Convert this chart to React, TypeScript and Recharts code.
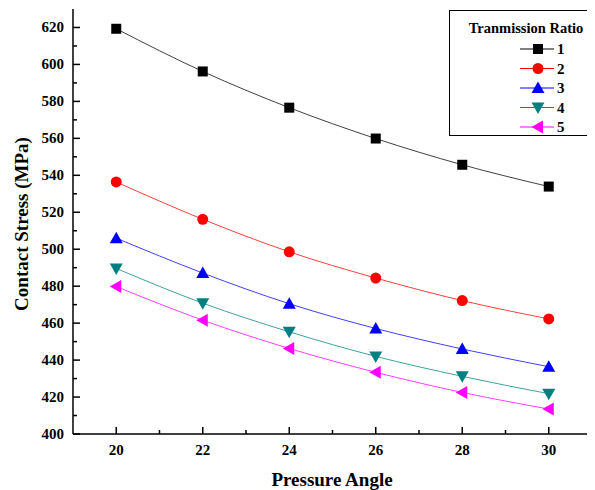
import { LineChart, Line, XAxis, YAxis, Legend } from 'recharts'

// pressure angle (deg) vs contact stress (MPa), one list per transmission ratio
const angles = [20, 22, 24, 26, 28, 30]
const ratio1 = [619.3, 596.2, 576.6, 559.9, 545.7, 533.9]
const ratio2 = [536.4, 516.2, 498.6, 484.4, 472.2, 462.3]
const ratio3 = [506.0, 487.1, 470.5, 457.1, 446.0, 436.4]
const ratio4 = [489.6, 470.8, 455.3, 442.0, 431.2, 421.8]
const ratio5 = [479.8, 461.6, 446.3, 433.4, 422.5, 413.5]

const seriesNames = ['1', '2', '3', '4', '5']
const seriesColors = ['#000000', '#ff0000', '#0000ff', '#008080', '#ff00ff']
const seriesShapes = ['square', 'circle', 'up', 'down', 'left']

const xTicks = [20, 21, 22, 23, 24, 25, 26, 27, 28, 29, 30]
const yTicks = [400, 410, 420, 430, 440, 450, 460, 470, 480, 490, 500, 510, 520, 530, 540, 550, 560, 570, 580, 590, 600, 610, 620]

const allSeries = [ratio1, ratio2, ratio3, ratio4, ratio5]
const data = angles.map((a, i) => {
  const row: Record<string, number> = { angle: a }
  allSeries.forEach((s, k) => { row['r' + (k + 1)] = s[i] })
  return row
})

const font = '"Liberation Serif", "Times New Roman", serif'

function Marker({ shape, x, y, color }: { shape: string; x: number; y: number; color: string }) {
  if (shape === 'square') return <rect x={x - 5} y={y - 5} width={10} height={10} fill={color} />
  if (shape === 'circle') return <circle cx={x} cy={y} r={5.5} fill={color} />
  let pts = ''
  if (shape === 'up') pts = `${x},${y - 6.5} ${x - 6.5},${y + 5} ${x + 6.5},${y + 5}`
  if (shape === 'down') pts = `${x - 6.5},${y - 5} ${x + 6.5},${y - 5} ${x},${y + 6.5}`
  if (shape === 'left') pts = `${x - 6.5},${y} ${x + 5},${y - 6.5} ${x + 5},${y + 6.5}`
  return <polygon points={pts} fill={color} />
}

const makeDot = (k: number) => (props: any) => {
  const { cx, cy, index } = props
  if (cx == null || cy == null) return <g key={index} />
  return <Marker key={index} shape={seriesShapes[k]} x={cx} y={cy} color={seriesColors[k]} />
}

// tick renderers: tickSize 0 so x/y sit right on the axis line
const BottomTick = (props: any) => {
  const { x, y, payload } = props
  const major = payload.value % 2 === 0
  return (
    <g>
      <line x1={x} x2={x} y1={y} y2={y - (major ? 7 : 4)} stroke="#000" strokeWidth={1.5} />
      {major && (
        <text x={x} y={y + 21} textAnchor="middle" style={{ fontFamily: font }} fontWeight="bold" fontSize={15} fill="#000">
          {payload.value}
        </text>
      )}
    </g>
  )
}

const TopTick = (props: any) => {
  const { x, y, payload } = props
  const major = payload.value % 2 === 0
  return <line x1={x} x2={x} y1={y} y2={y + (major ? 7 : 4)} stroke="#000" strokeWidth={1.5} />
}

const LeftTick = (props: any) => {
  const { x, y, payload } = props
  const major = payload.value % 20 === 0
  return (
    <g>
      <line x1={x} x2={x + (major ? 7 : 4)} y1={y} y2={y} stroke="#000" strokeWidth={1.5} />
      {major && (
        <text x={x - 9} y={y + 5} textAnchor="end" style={{ fontFamily: font }} fontWeight="bold" fontSize={15} fill="#000">
          {payload.value}
        </text>
      )}
    </g>
  )
}

const RightTick = (props: any) => {
  const { x, y, payload } = props
  const major = payload.value % 20 === 0
  return <line x1={x} x2={x - (major ? 7 : 4)} y1={y} y2={y} stroke="#000" strokeWidth={1.5} />
}

const LegendBox = () => (
  <div
    style={{
      width: 143,
      height: 126,
      boxSizing: 'border-box',
      border: '1.5px solid #000',
      background: '#fff',
    }}
  >
    <svg width={140} height={123} style={{ overflow: 'visible', display: 'block' }}>
      <text x={76} y={22} textAnchor="middle" style={{ fontFamily: font }} fontWeight="bold" fontSize={14.5} fill="#000">
        Tranmission Ratio
      </text>
      {seriesNames.map((name, k) => {
        const y = 38 + k * 19.5
        return (
          <g key={name}>
            <line x1={70} x2={104} y1={y} y2={y} stroke={seriesColors[k]} strokeWidth={1} />
            <Marker shape={seriesShapes[k]} x={88} y={y} color={seriesColors[k]} />
            <text x={107} y={y + 5} style={{ fontFamily: font }} fontWeight="bold" fontSize={15} fill="#000">
              {name}
            </text>
          </g>
        )
      })}
    </svg>
  </div>
)

export default function App() {
  return (
    <div style={{ margin: '-8px 0 0 -8px', width: 595, height: 490, background: '#fff' }}>
      <LineChart width={595} height={490} data={data} margin={{ top: 9, right: 3, bottom: 0, left: 0 }}>
        <XAxis
          dataKey="angle"
          type="number"
          domain={[19, 31]}
          ticks={xTicks}
          interval={0}
          height={56}
          tickSize={0}
          tickMargin={0}
          tick={<BottomTick />}
          axisLine={{ stroke: '#000', strokeWidth: 1.5 }}
          label={{
            content: () => (
              <text x={332} y={486} textAnchor="middle" style={{ fontFamily: font }} fontWeight="bold" fontSize={19} fill="#000">
                Pressure Angle
              </text>
            ),
          }}
        />
        <XAxis
          xAxisId="top"
          orientation="top"
          dataKey="angle"
          type="number"
          domain={[19, 31]}
          ticks={[20, 22, 24, 26, 28, 30]}
          interval={0}
          height={0}
          tickSize={0}
          tickMargin={0}
          tick={<TopTick />}
          axisLine={{ stroke: '#000', strokeWidth: 1.5 }}
        />
        <YAxis
          type="number"
          domain={[400, 630]}
          ticks={yTicks}
          interval={0}
          width={73}
          tickSize={0}
          tickMargin={0}
          tick={<LeftTick />}
          axisLine={{ stroke: '#000', strokeWidth: 1.5 }}
          label={{
            content: () => (
              <text
                x={28}
                y={224}
                transform="rotate(-90 28 224)"
                textAnchor="middle"
                style={{ fontFamily: font }}
                fontWeight="bold"
                fontSize={19}
                fill="#000"
              >
                Contact Stress (MPa)
              </text>
            ),
          }}
        />
        <YAxis
          yAxisId="right"
          orientation="right"
          type="number"
          domain={[400, 630]}
          ticks={[400, 420, 440, 460, 480, 500, 520, 540, 560, 580, 600, 620]}
          interval={0}
          width={0}
          tickSize={0}
          tickMargin={0}
          tick={<RightTick />}
          axisLine={{ stroke: '#000', strokeWidth: 1.5 }}
        />
        {seriesNames.map((name, k) => (
          <Line
            key={name}
            name={name}
            dataKey={'r' + (k + 1)}
            type="monotone"
            stroke={seriesColors[k]}
            strokeWidth={1}
            strokeOpacity={0.75}
            dot={makeDot(k)}
            activeDot={false}
            isAnimationActive={false}
          />
        ))}
        <Legend
          layout="horizontal"
          verticalAlign="middle"
          align="center"
          content={() => <LegendBox />}
          wrapperStyle={{ position: 'absolute', left: 449, top: 10, width: 143, height: 126 }}
        />
      </LineChart>
    </div>
  )
}
